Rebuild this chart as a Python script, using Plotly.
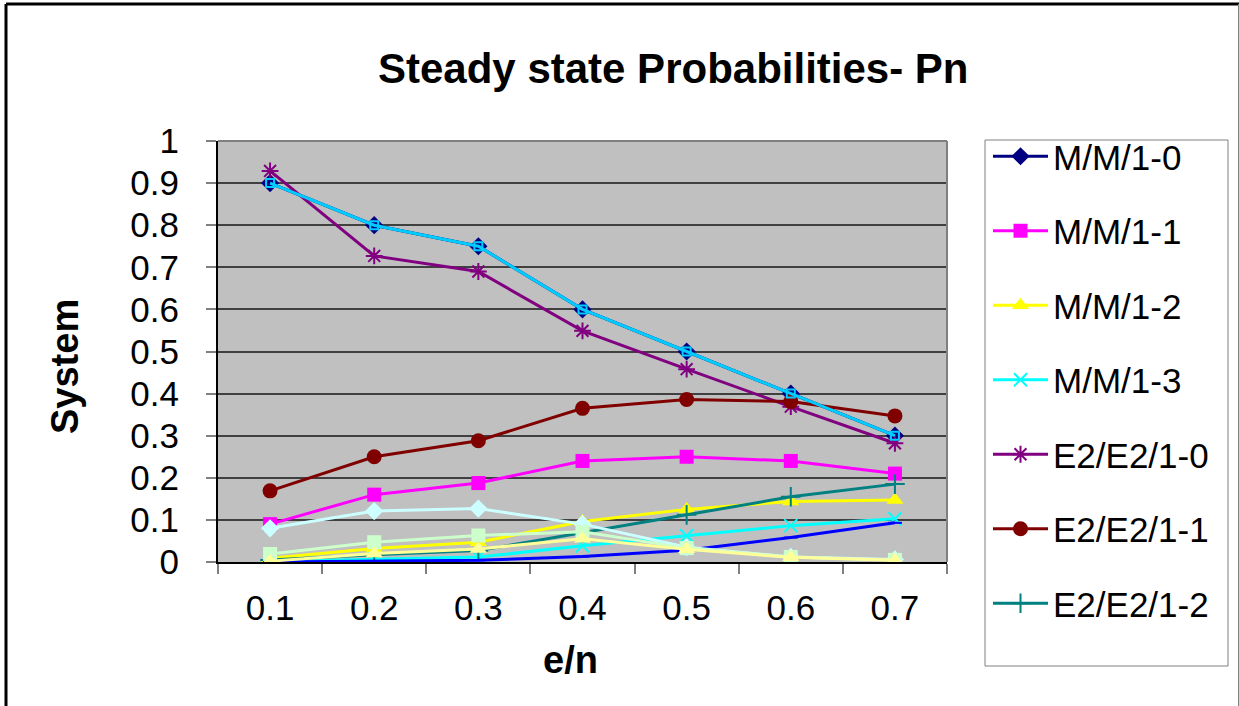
import plotly.graph_objects as go

# Load factor categories (x axis)
categories = ["0.1", "0.2", "0.3", "0.4", "0.5", "0.6", "0.7"]

# Steady state probabilities per model / state
mm1_0 = [0.9, 0.8, 0.75, 0.6, 0.5, 0.4, 0.3]
mm1_1 = [0.09, 0.16, 0.1875, 0.24, 0.25, 0.24, 0.21]
mm1_2 = [0.009, 0.032, 0.047, 0.096, 0.125, 0.144, 0.147]
mm1_3 = [0.0009, 0.0064, 0.0117, 0.0384, 0.0625, 0.0864, 0.1029]
e2_0 = [0.929, 0.727, 0.69, 0.549, 0.458, 0.369, 0.282]
e2_1 = [0.169, 0.25, 0.288, 0.365, 0.386, 0.381, 0.347]
e2_2 = [0.005, 0.017, 0.027, 0.069, 0.112, 0.155, 0.185]
series8 = [0.0, 0.002, 0.004, 0.013, 0.028, 0.058, 0.093]
series9 = [0.9, 0.8, 0.75, 0.6, 0.5, 0.4, 0.3]
series10 = [0.08, 0.121, 0.127, 0.09, 0.035, 0.012, 0.006]
series11 = [0.019, 0.047, 0.063, 0.072, 0.033, 0.012, 0.005]
series12 = [0.002, 0.02, 0.031, 0.055, 0.03, 0.011, 0.004]

series = [
    ("M/M/1-0", mm1_0, "#000080", "diamond", 14, True),
    ("M/M/1-1", mm1_1, "#FF00FF", "square", 14, True),
    ("M/M/1-2", mm1_2, "#FFFF00", "triangle-up", 15, True),
    ("M/M/1-3", mm1_3, "#00FFFF", "x-thin-open", 13, True),
    ("E2/E2/1-0", e2_0, "#800080", "asterisk-open", 14, True),
    ("E2/E2/1-1", e2_1, "#800000", "circle", 15, True),
    ("E2/E2/1-2", e2_2, "#008080", "cross-thin-open", 14, True),
    ("Series8", series8, "#0000FF", "line-ew-open", 10, False),
    ("Series9", series9, "#00CCFF", "square-open", 8, False),
    ("Series10", series10, "#CCFFFF", "diamond", 14, False),
    ("Series11", series11, "#CCFFCC", "square", 14, False),
    ("Series12", series12, "#FFFF99", "triangle-up", 15, False),
]

fig = go.Figure()
for i, (name, vals, color, symbol, size, in_legend) in enumerate(series):
    open_sym = symbol.endswith("open")
    fig.add_trace(go.Scatter(
        x=categories, y=vals, name=name, mode="lines+markers",
        line=dict(color=color, width=3),
        marker=dict(symbol=symbol, size=size, color=color,
                    line=dict(color=color, width=2 if open_sym else 0)),
        showlegend=in_legend, legendgroup=f"g{i}",
    ))

# Geometry of the plot area in pixels
W, H = 1239, 706
L, R, T, B = 218, 947, 141, 562
pw, ph = R - L, B - T


def px(x):
    return (x - L) / pw


def py(y):
    return (B - y) / ph


font = "Liberation Sans, Arial, sans-serif"
shapes = [
    # outer chart frame
    dict(type="line", xref="paper", yref="paper", x0=px(6), x1=px(6), y0=py(4), y1=py(720),
         line=dict(color="black", width=3)),
    dict(type="line", xref="paper", yref="paper", x0=px(6), x1=px(1240), y0=py(4), y1=py(4),
         line=dict(color="black", width=3)),
    dict(type="line", xref="paper", yref="paper", x0=px(1238.5), x1=px(1238.5), y0=py(4), y1=py(720),
         line=dict(color="#808080", width=1)),
    # plot area top/right border
    dict(type="line", xref="paper", yref="paper", x0=0, x1=1, y0=1, y1=1,
         line=dict(color="#808080", width=2)),
    dict(type="line", xref="paper", yref="paper", x0=1, x1=1, y0=0, y1=1,
         line=dict(color="#808080", width=2)),
    # legend box
    dict(type="rect", xref="paper", yref="paper", x0=px(985), x1=px(1228), y0=py(140), y1=py(666),
         line=dict(color="#808080", width=1), fillcolor="white", layer="below"),
]

fig.update_layout(
    width=W, height=H,
    margin=dict(l=L, r=W - R, t=T, b=H - B, pad=0),
    paper_bgcolor="white", plot_bgcolor="#C0C0C0",
    font=dict(family=font, size=35, color="black"),
    showlegend=True,
    legend=dict(x=px(988), y=py(127), xanchor="left", yanchor="top",
                bgcolor="rgba(0,0,0,0)", borderwidth=0, maxheight=700,
                font=dict(size=35), traceorder="grouped", tracegroupgap=26,
                itemwidth=55),
    shapes=shapes,
    annotations=[
        dict(text="<b>Steady state Probabilities- Pn</b>", xref="paper", yref="paper",
             x=px(673), y=py(68), xanchor="center", yanchor="middle", showarrow=False,
             font=dict(size=42)),
        dict(text="<b>System</b>", xref="paper", yref="paper", textangle=-90,
             x=px(65), y=py(367), xanchor="center", yanchor="middle", showarrow=False,
             font=dict(size=38)),
        dict(text="<b>e/n</b>", xref="paper", yref="paper",
             x=px(570), y=py(660), xanchor="center", yanchor="middle", showarrow=False,
             font=dict(size=38)),
    ],
)

fig.update_xaxes(type="category", range=[-0.5, 6.5], tickson="boundaries",
                 ticks="outside", ticklen=10, tickcolor="#808080", tickwidth=2,
                 showline=True, linecolor="black", linewidth=2, showgrid=False,
                 zeroline=False, ticklabelstandoff=14, tickfont=dict(size=35))
fig.update_yaxes(range=[0, 1], dtick=0.1, tick0=0,
                 ticks="outside", ticklen=10, tickcolor="#808080", tickwidth=2,
                 showline=True, linecolor="black", linewidth=2,
                 showgrid=True, gridcolor="#404040", gridwidth=1.5,
                 zeroline=False, ticklabelstandoff=20, tickfont=dict(size=35))

fig.write_html("out.html")
